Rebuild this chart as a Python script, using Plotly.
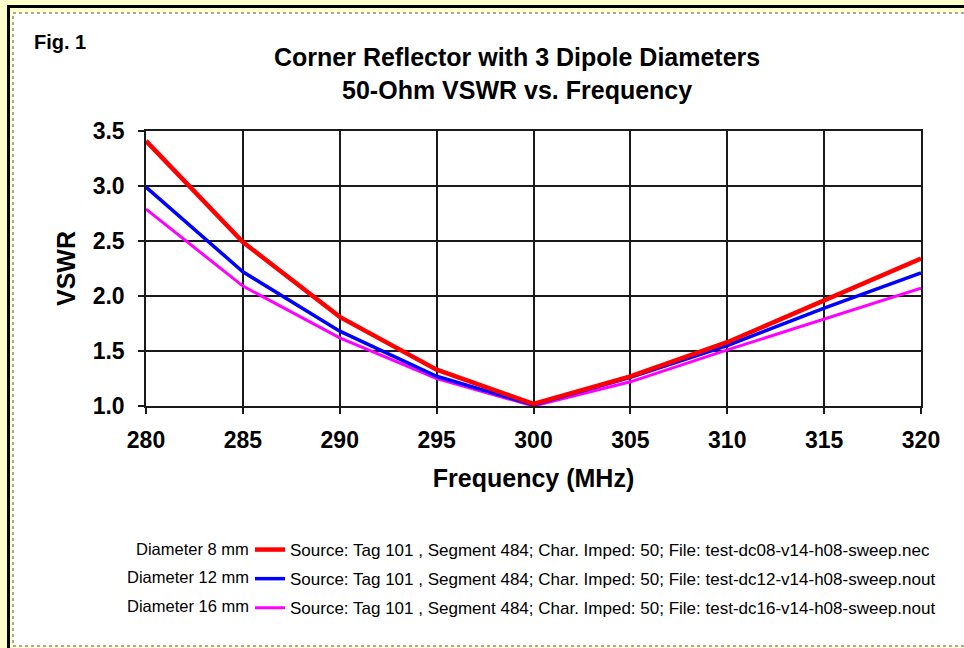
import plotly.graph_objects as go

# data
freq_mhz = [280, 285, 290, 295, 300, 305, 310, 315, 320]
vswr_8mm = [3.41, 2.49, 1.81, 1.33, 1.02, 1.27, 1.58, 1.96, 2.34]
vswr_12mm = [2.99, 2.22, 1.68, 1.27, 1.01, 1.26, 1.55, 1.89, 2.21]
vswr_16mm = [2.79, 2.09, 1.62, 1.25, 1.00, 1.22, 1.51, 1.79, 2.07]

diameter_labels = ["Diameter 8 mm", "Diameter 12 mm", "Diameter 16 mm"]
source_labels = [
    "Source: Tag 101 , Segment 484; Char. Imped: 50; File: test-dc08-v14-h08-sweep.nec",
    "Source: Tag 101 , Segment 484; Char. Imped: 50; File: test-dc12-v14-h08-sweep.nout",
    "Source: Tag 101 , Segment 484; Char. Imped: 50; File: test-dc16-v14-h08-sweep.nout",
]
x_ticks = [280, 285, 290, 295, 300, 305, 310, 315, 320]
y_ticks = [1.0, 1.5, 2.0, 2.5, 3.0, 3.5]

FONT = "Liberation Sans, Arial, sans-serif"
W, H = 964, 648
L, R, T, B = 146, 43, 131, 242
PW, PH = W - L - R, H - T - B


def px(x):
    return (x - L) / PW


def py(y):
    return (H - B - y) / PH


fig = go.Figure()

series = [
    (vswr_16mm, "#FF00FF", 3, 2),
    (vswr_12mm, "#0000FF", 3.5, 1),
    (vswr_8mm, "#FF0000", 4.5, 0),
]
for vals, color, width, i in series:
    fig.add_trace(go.Scatter(
        x=freq_mhz, y=vals, mode="lines",
        line=dict(color=color, width=width),
        name=source_labels[i], legendgroup=str(i), legendrank=i + 1,
    ))

# frame decorations (yellow page, black edge, dotted inner border)
shapes = [
    dict(type="rect", xref="paper", yref="paper", x0=px(13), x1=px(970),
         y0=py(13), y1=py(646), fillcolor="white",
         line=dict(color="#8a8a8a", width=1.5, dash="dot"), layer="below"),
    dict(type="rect", xref="paper", yref="paper", x0=px(7), x1=px(970),
         y0=py(5), y1=py(8), fillcolor="black", line=dict(width=0), layer="below"),
    dict(type="rect", xref="paper", yref="paper", x0=px(7), x1=px(10),
         y0=py(5), y1=py(660), fillcolor="black", line=dict(width=0), layer="below"),
]

annotations = [
    dict(text="Fig. 1", xref="paper", yref="paper", x=px(32), y=py(42),
         xanchor="left", yanchor="middle", showarrow=False,
         font=dict(family=FONT, size=20, color="black", weight="bold")),
    dict(text="Corner Reflector with 3 Dipole Diameters<br>50-Ohm VSWR vs. Frequency",
         xref="paper", yref="paper", x=px(517), y=py(73),
         xanchor="center", yanchor="middle", showarrow=False,
         font=dict(family=FONT, size=25, color="black", weight="bold")),
]
row_y = [549, 577, 606]
for lab, ry in zip(diameter_labels, row_y):
    annotations.append(dict(
        text=lab, xref="paper", yref="paper", x=px(251), y=py(ry),
        xanchor="right", yanchor="middle", showarrow=False,
        font=dict(family=FONT, size=16.5, color="black")))

fig.update_layout(
    width=W, height=H,
    margin=dict(l=L, r=R, t=T, b=B),
    paper_bgcolor="#FFFFCC",
    plot_bgcolor="white",
    shapes=shapes,
    annotations=annotations,
    showlegend=True,
    legend=dict(
        x=px(250), y=py(532), xanchor="left", yanchor="top",
        bgcolor="rgba(0,0,0,0)", borderwidth=0,
        font=dict(family=FONT, size=17, color="black"),
        tracegroupgap=4, itemwidth=30,
    ),
    xaxis=dict(
        range=[280, 320], tickvals=x_ticks,
        title=dict(text="Frequency (MHz)", standoff=17,
                   font=dict(family=FONT, size=25, color="black", weight="bold")),
        tickfont=dict(family=FONT, size=23, color="black", weight="bold"),
        ticklabelstandoff=7,
        showgrid=True, gridcolor="#1a1a1a", gridwidth=1.5,
        showline=True, linecolor="#1a1a1a", linewidth=1.5, mirror=True,
        ticks="outside", ticklen=6, tickcolor="#1a1a1a", tickwidth=1.5,
        zeroline=False,
    ),
    yaxis=dict(
        range=[1, 3.5], tickvals=y_ticks, tickformat=".1f",
        title=dict(text="VSWR", standoff=10,
                   font=dict(family=FONT, size=25, color="black", weight="bold")),
        tickfont=dict(family=FONT, size=23, color="black", weight="bold"),
        ticklabelstandoff=9,
        showgrid=True, gridcolor="#1a1a1a", gridwidth=1.5,
        showline=True, linecolor="#1a1a1a", linewidth=1.5, mirror=True,
        ticks="outside", ticklen=6, tickcolor="#1a1a1a", tickwidth=1.5,
        zeroline=False,
    ),
)

fig.write_html("out.html", config={"displayModeBar": False},
               post_script="document.body.style.margin = '0';")
